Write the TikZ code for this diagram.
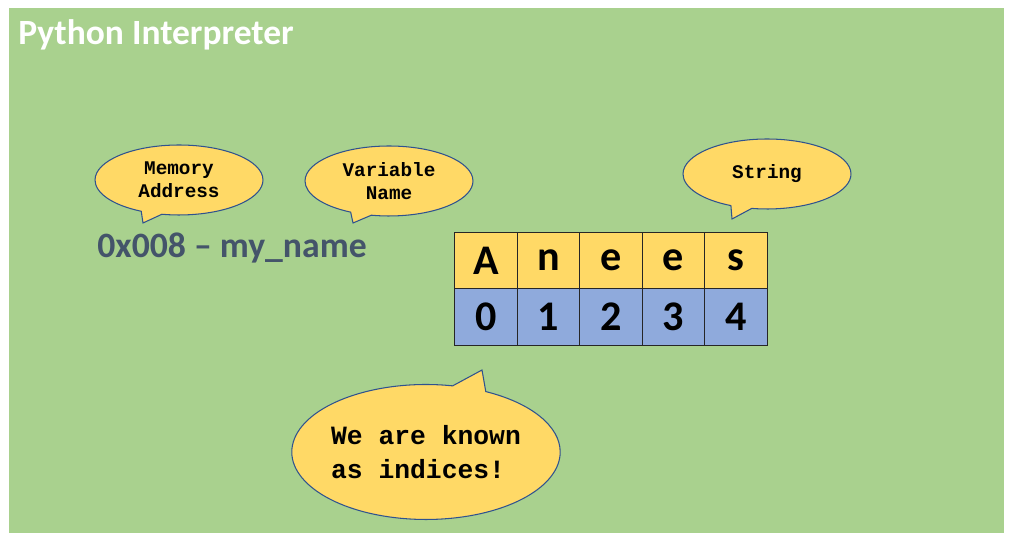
\documentclass[tikz,border=0pt]{standalone}
\usepackage{fontspec}
\setmainfont{Carlito}
\newfontfamily\codefont{Liberation Mono}
\usetikzlibrary{shapes.callouts}
\definecolor{bggreen}{HTML}{A9D18E}
\definecolor{cellyellow}{HTML}{FFD966}
\definecolor{cellblue}{HTML}{8FAADC}
\definecolor{bubbleline}{HTML}{2F528F}
\definecolor{slate}{HTML}{44546A}
\tikzset{
  bubble/.style={ellipse callout, draw=bubbleline, line width=0.6pt, fill=cellyellow, align=center, inner sep=0pt,
    font=\codefont\bfseries\fontsize{11}{13}\selectfont, minimum width=3.36cm, minimum height=1.4cm},
  cell/.style={draw=black!85, line width=0.7pt, inner sep=0pt, minimum width=1.248cm, minimum height=1.13cm,
    font=\fontsize{24}{26}\selectfont\bfseries},
}

\begin{document}
\begin{tikzpicture}[x=0.02cm,y=-0.02cm]
            \useasboundingbox (0,0) rectangle (1014,543);
            \fill[bggreen] (9,8) rectangle (1004,533);
            \node[anchor=base west, text=white, font=\fontsize{20.2}{22}\selectfont\bfseries, inner sep=0pt] (title) at (18,45) {Python Interpreter};

            % callouts above the variable
            \node[bubble, callout absolute pointer={(143,223)}] (addr) at (179,180) {Memory\\Address};
            \node[bubble, callout absolute pointer={(353,223)}] (var) at (389,181) {Variable\\Name};
            \node[bubble, callout absolute pointer={(732,219)}] (str) at (767,174) {String};
            \node[anchor=base west, text=slate, font=\fontsize{20.3}{22}\selectfont\bfseries, inner sep=0pt] (label) at (97,258) {0x008 -- my\_name};

            % the string and its indices
            \node[cell, fill=cellyellow] (c0) at (486,260.5) {A}; \node[cell, fill=cellyellow] (c1) at (548.5,260.5) {n}; \node[cell, fill=cellyellow] (c2) at (611,260.5) {e}; \node[cell, fill=cellyellow] (c3) at (673.5,260.5) {e}; \node[cell, fill=cellyellow] (c4) at (736,260.5) {s};
            \node[cell, fill=cellblue] (i0) at (486,317) {0}; \node[cell, fill=cellblue] (i1) at (548.5,317) {1}; \node[cell, fill=cellblue] (i2) at (611,317) {2}; \node[cell, fill=cellblue] (i3) at (673.5,317) {3}; \node[cell, fill=cellblue] (i4) at (736,317) {4};

            \node[bubble, align=left, callout absolute pointer={(482,370)}, minimum width=5.3cm, minimum height=2.7cm,
              font=\codefont\bfseries\fontsize{15}{19}\selectfont] (idx) at (426,452) {We are known\\as indices!};
        \end{tikzpicture}
\end{document}
